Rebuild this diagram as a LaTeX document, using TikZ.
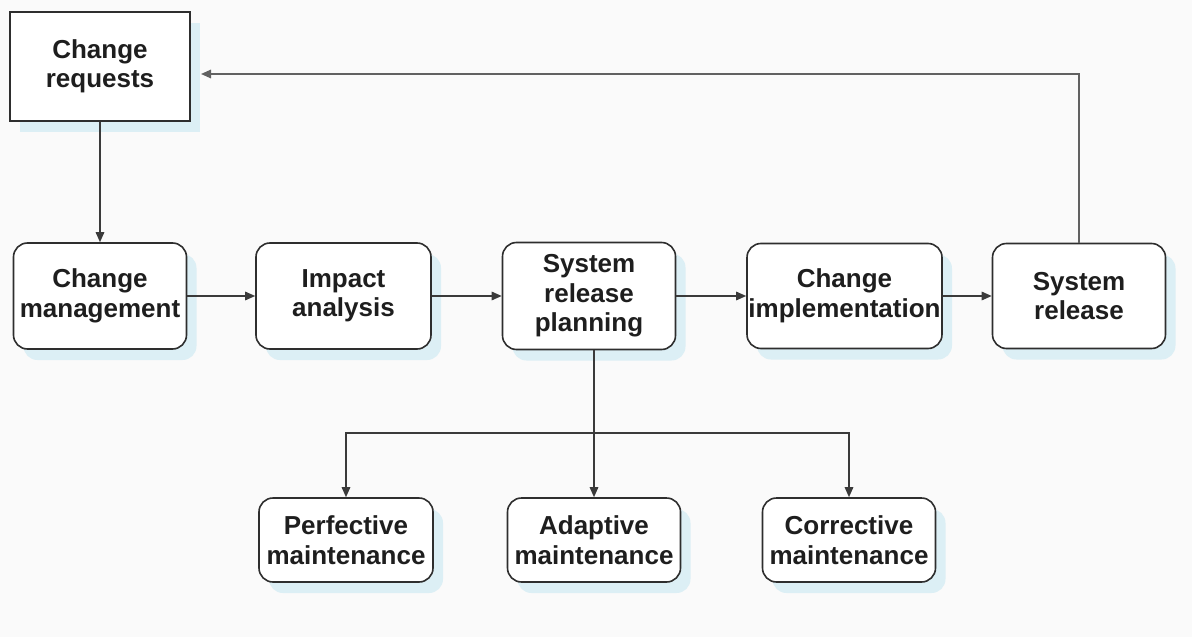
\documentclass[tikz,border=0pt]{standalone}
\usepackage{fontspec}
\setmainfont{Liberation Sans}
\usetikzlibrary{arrows.meta,shadows}
\definecolor{bgc}{HTML}{FAFAFA}
\definecolor{shadowc}{HTML}{DCEFF5}
\definecolor{linec}{HTML}{2E2E2E}
\definecolor{arrc}{HTML}{3A3A3A}
\definecolor{txtc}{HTML}{1E1E1E}
\tikzset{
  box/.style={draw=linec, line width=1.6pt, fill=white, align=center,
    text=txtc, font=\fontsize{26}{29.5}\selectfont\bfseries, inner sep=0pt,
    drop shadow={shadow xshift=10pt, shadow yshift=-11pt, fill=shadowc, opacity=1}},
  rbox/.style={box, rounded corners=14pt},
  conn/.style={draw=arrc, line width=1.4pt, -{Triangle[length=10pt,width=8.5pt]}},
  fbline/.style={draw=arrc!80, line width=1.6pt, -{Triangle[length=10pt,width=8.5pt]}}
}
\begin{document}
\begin{tikzpicture}[x=1pt,y=-1pt]
\fill[bgc] (0,0) rectangle (1192,637);
\useasboundingbox (0,0) rectangle (1192,637);
\node[box, minimum width=180pt, minimum height=109pt] (req) at (100,66.5) {Change\\requests};
\node[rbox, minimum width=173pt, minimum height=106pt] (mgmt) at (100,296) {Change\\management};
\node[rbox, minimum width=175pt, minimum height=106pt] (impact) at (343.5,296) {Impact\\analysis};
\node[rbox, minimum width=173pt, minimum height=107pt] (plan) at (589,296) {System\\release\\planning};
\node[rbox, minimum width=195pt, minimum height=105pt] (impl) at (844.5,296) {Change\\implementation};
\node[rbox, minimum width=173pt, minimum height=105pt] (rel) at (1079,296) {System\\release};
\node[rbox, minimum width=174pt, minimum height=84pt] (perf) at (346,540) {Perfective\\maintenance};
\node[rbox, minimum width=173pt, minimum height=84pt] (adapt) at (594,540) {Adaptive\\maintenance};
\node[rbox, minimum width=173pt, minimum height=84pt] (corr) at (849,540) {Corrective\\maintenance};
\coordinate (fb) at (201,74);
\coordinate (br) at (594,433);
\draw[conn] (req.south) -- (mgmt.north);
\draw[conn] (mgmt.east) -- (impact.west);
\draw[conn] (impact.east) -- (plan.west);
\draw[conn] (plan.east) -- (impl.west);
\draw[conn] (impl.east) -- (rel.west);
\draw[fbline] (rel.north) |- (fb);
\draw[conn] (adapt.north |- plan.south) -- (adapt.north);
\draw[conn] (br) -| (perf.north);
\draw[conn] (br) -| (corr.north);
\end{tikzpicture}
\end{document}
